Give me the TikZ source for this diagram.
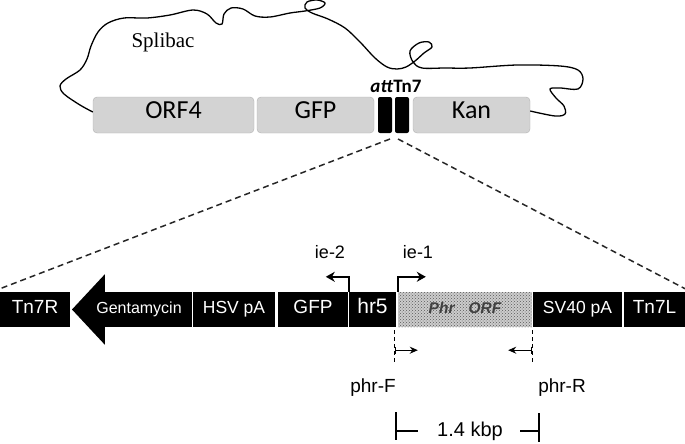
\documentclass[tikz,border=0pt]{standalone}
\usepackage{fontspec}
\setmainfont{Liberation Sans}
\newfontfamily\calibrifont{Carlito}
\newfontfamily\timesfont{Liberation Serif}
\usetikzlibrary{arrows.meta, patterns, calc}
\definecolor{BoxGray}{HTML}{D3D3D3}
\definecolor{EdgeGray}{HTML}{B2B2B2}
\newcommand{\fsz}[1]{\fontsize{#1}{#1}\selectfont}

\begin{document}
\begin{tikzpicture}[
    x=1pt, y=-1pt,
    gene/.style={draw=EdgeGray, fill=BoxGray, rounded corners=4pt, minimum height=36, inner sep=0pt,
        text height=0.64em, text depth=0pt, font=\calibrifont\fsz{26}},
    attbar/.style={fill=black, rounded corners=2pt, minimum width=14, minimum height=36, inner sep=0pt},
    blk/.style={fill=black, text=white, minimum height=35, inner sep=0pt,
        text height=0.72em, text depth=0pt, font=\fsz{19}},
    orf/.style={fill=gray!40, postaction={pattern=crosshatch dots, pattern color=gray!70!black},
        minimum height=35, inner sep=0pt, text height=0.72em, text depth=0pt,
        font=\bfseries\itshape\fsz{15.5}, text=black!75},
    zoomline/.style={dash pattern=on 6pt off 4pt, line width=1.5pt, black!85},
    prom/.style={-{Stealth[length=9pt, width=10pt]}, line width=2.2pt},
    primer/.style={{Bar[width=7pt]}-{Stealth[length=8pt, width=7pt]}, line width=1.2pt},
    primdash/.style={dash pattern=on 4pt off 3pt, line width=1pt},
    span/.style={line width=1.3pt},
    lbl/.style={font=\fsz{19}, inner sep=0pt},
]
\useasboundingbox (0,0) rectangle (685,444);

% --- Splibac backbone ---
\node[gene, minimum width=161] (orf4) at (173.5,115) {ORF4};
\node[gene, minimum width=117] (gfptop) at (315.5,115) {GFP};
\node[attbar] (bar1) at (385,115) {};
\node[attbar] (bar2) at (402,115) {};
\node[gene, minimum width=117] (kan) at (471.5,115) {Kan};
\node[font=\calibrifont\bfseries\fsz{19}, inner sep=0pt] (attlbl) at (396,86) {\textit{att}Tn7};
\node[font=\timesfont\fsz{21}, inner sep=0pt] (splibac) at (163,42) {Splibac};

\draw[line width=1.3pt] plot[smooth, tension=0.55] coordinates {
    ([yshift=3pt]orf4.west) (80,105) (64,94) (60,86) (66,79) (80,70) (87,59) (91,46) (98,32)
    (108,23) (124,18) (147,18) (170,15) (193,10) (207,14) (216,23) (222,24) (224,14) (231,8)
    (243,9) (255,16) (270,17) (290,13) (305,11) (320,8) (325,3) (317,0) (307,2) (305,8)
    (312,13) (328,19) (345,28) (360,42) (375,58) (387,67) (397,69) (406,67) (415,61) (424,53)
    (432,47) (429,42) (419,43) (410,51) (413,62) (422,68) (445,68) (470,68) (517,65) (560,66)
    (578,70) (583,79) (578,89) (560,88) (550,89) (556,98) (564,106) (565,114) (555,116)
    ([yshift=4pt]kan.east)};

% --- zoom lines ---
\coordinate (apexL) at (390,139);
\coordinate (apexR) at (398,139);

% --- insert cassette ---
\node[blk, minimum width=70] (tn7r) at (35,309.5) {Tn7R};
\node[blk, minimum width=87] (gent) at (148.5,309.5) {};
\coordinate (gtip) at (72,309.5);
\fill ([yshift=17.5pt]gent.north west) -- (gtip) -- ([yshift=-17.5pt]gent.south west) -- cycle;
\node[font=\fsz{16}, text=white, inner sep=0pt] (gentlbl) at (139,309.5) {Gentamycin};
\node[blk, minimum width=82, font=\fsz{17.5}] (hsv) at (234,309.5) {HSV pA};
\node[blk, minimum width=70] (gfpbot) at (313,309.5) {GFP};
\node[blk, minimum width=47, font=\fsz{21}] (hr5) at (372.5,309.5) {hr5};
\node[orf, minimum width=134] (phr) at (465,309.5) {Phr\hspace{14pt}ORF};
\node[blk, minimum width=89, font=\fsz{17.5}] (sv40) at (577.5,309.5) {SV40 pA};
\node[blk, minimum width=61] (tn7l) at (654.5,309.5) {Tn7L};

\draw[zoomline] (apexL) -- ([yshift=3pt]tn7r.north west);
\draw[zoomline] (apexR) -- ([yshift=3pt]tn7l.north east);

% promoters
\draw[prom] (hr5.north west) |- ++(-23,-15);
\draw[prom] (phr.north west) |- ++(28,-15);
\node[lbl, font=\fsz{18}] (ie2) at (330,252) {ie-2};
\node[lbl, font=\fsz{18}] (ie1) at (418,252) {ie-1};

% primers
\draw[primdash] ([xshift=-3pt, yshift=-3pt]phr.south west) -- ++(0,33);
\draw[primdash] ([yshift=-3pt]phr.south east) -- ++(0,33);
\draw[primer] ([xshift=-3pt, yshift=-23pt]phr.south west) -- ++(23,0);
\draw[primer] ([yshift=-23pt]phr.south east) -- ++(-24,0);
\node[lbl] (phrf) at (373,388) {phr-F};
\node[lbl] (phrr) at (562,388) {phr-R};

% amplicon size
\node[lbl, font=\fsz{20}] (kbp) at (470,431) {1.4 kbp};
\coordinate (spanL) at (396,431);
\coordinate (spanR) at (539,431);
\draw[span] (spanL) -- ++(22,0);
\draw[span] ($(spanL)+(0,-19)$) -- ($(spanL)+(0,9)$);
\draw[span] (spanR) -- ++(-19,0);
\draw[span] ($(spanR)+(0,-18)$) -- ($(spanR)+(0,11)$);

\end{tikzpicture}
\end{document}
